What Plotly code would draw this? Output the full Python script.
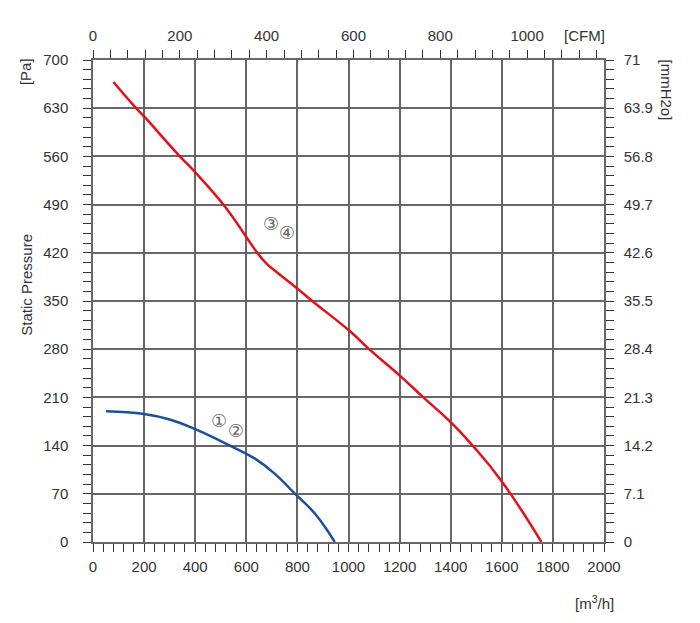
import plotly.graph_objects as go

# fan curves: airflow [m3/h] vs static pressure [Pa]
red_flow = [80, 164, 200, 340, 400, 517, 600, 641, 680, 712, 800, 858, 1006,
            1084, 1200, 1293, 1400, 1486, 1600, 1755]
red_pressure = [668, 632, 618, 560, 537, 487, 443, 421, 404, 394, 368, 350, 306,
                279, 242, 210, 174, 140, 88, 0]

blue_flow = [51, 200, 300, 400, 536, 634, 712, 788, 869, 946]
blue_pressure = [190, 186, 178, 164, 140, 121, 99, 71, 41, 0]

pa_ticks = [0, 70, 140, 210, 280, 350, 420, 490, 560, 630, 700]
mmh2o_ticks = [0, 7.1, 14.2, 21.3, 28.4, 35.5, 42.6, 49.7, 56.8, 63.9, 71]
mmh2o_labels = ["0", "7.1", "14.2", "21.3", "28.4", "35.5", "42.6", "49.7",
                "56.8", "63.9", "71"]

M3H_PER_CFM = 1.699
FLOW_MAX = 2000

# curve markers (circled numbers) at [m3/h, Pa]
labels = [("①", 494, 176), ("②", 558, 162), ("③", 695, 463), ("④", 760, 449)]

FONT = "Liberation Sans, Arial, sans-serif"
TEXT = "#333333"
GRID = "#6a6666"

fig = go.Figure()
fig.add_scatter(x=red_flow, y=red_pressure, mode="lines",
                line=dict(color="#e3101b", width=2.5, shape="spline", smoothing=1.3),
                showlegend=False, hoverinfo="skip")
fig.add_scatter(x=blue_flow, y=blue_pressure, mode="lines",
                line=dict(color="#1b4f9c", width=2.5, shape="spline", smoothing=1.3),
                showlegend=False, hoverinfo="skip")
# empty trace so the CFM / mmH2o axes get drawn
fig.add_scatter(x=[], y=[], xaxis="x2", yaxis="y2", showlegend=False)

for text, fx, fy in labels:
    fig.add_annotation(x=fx, y=fy, text=text, showarrow=False,
                       xanchor="center", yanchor="middle",
                       font=dict(family="DejaVu Sans", size=18, color="#666666"))

axis_common = dict(
    showline=True, linecolor=GRID, linewidth=1.5,
    ticks="outside", ticklen=8, tickcolor=TEXT, tickwidth=1,
    tickfont=dict(family=FONT, size=15, color=TEXT),
    zeroline=False,
)

# page body adds 8px, so margins are shifted to keep the plot box in place
fig.update_layout(
    width=700, height=623,
    margin=dict(l=85, r=104, t=52, b=89),
    plot_bgcolor="white", paper_bgcolor="white",
    xaxis=dict(range=[0, FLOW_MAX], dtick=200, showgrid=True,
               gridcolor=GRID, gridwidth=1.5, ticklabelstandoff=2,
               minor=dict(dtick=40, ticks="outside", ticklen=8, tickcolor=TEXT),
               **axis_common),
    xaxis2=dict(range=[0, FLOW_MAX / M3H_PER_CFM], dtick=200, side="top",
                overlaying="x", showgrid=False, ticklabelstandoff=3,
                minor=dict(dtick=40, ticks="outside", ticklen=8, tickcolor=TEXT),
                **axis_common),
    yaxis=dict(range=[0, 700], tickvals=pa_ticks, showgrid=True,
               gridcolor=GRID, gridwidth=1.5, ticklabelstandoff=12,
               minor=dict(dtick=14, ticks="outside", ticklen=8, tickcolor=TEXT),
               **axis_common),
    yaxis2=dict(range=[0, 71], tickvals=mmh2o_ticks, ticktext=mmh2o_labels,
                side="right", overlaying="y", showgrid=False, ticklabelstandoff=7,
                minor=dict(dtick=1.42, ticks="outside", ticklen=8, tickcolor=TEXT),
                **axis_common),
)

title_font = dict(family=FONT, size=15, color=TEXT)
titles = [
    ("[Pa]", -0.132, 0.976, -90),
    ("Static Pressure", -0.130, 0.533, -90),
    ("[mmH2o]", 1.123, 0.937, 90),
    ("[CFM]", 0.961, 1.050, 0),
    ("[m<sup>3</sup>/h]", 0.982, -0.1255, 0),
]
for text, px, py, angle in titles:
    fig.add_annotation(xref="paper", yref="paper", x=px, y=py, text=text,
                       textangle=angle, showarrow=False, xanchor="center",
                       yanchor="middle", font=title_font)

fig.write_html("out.html")
